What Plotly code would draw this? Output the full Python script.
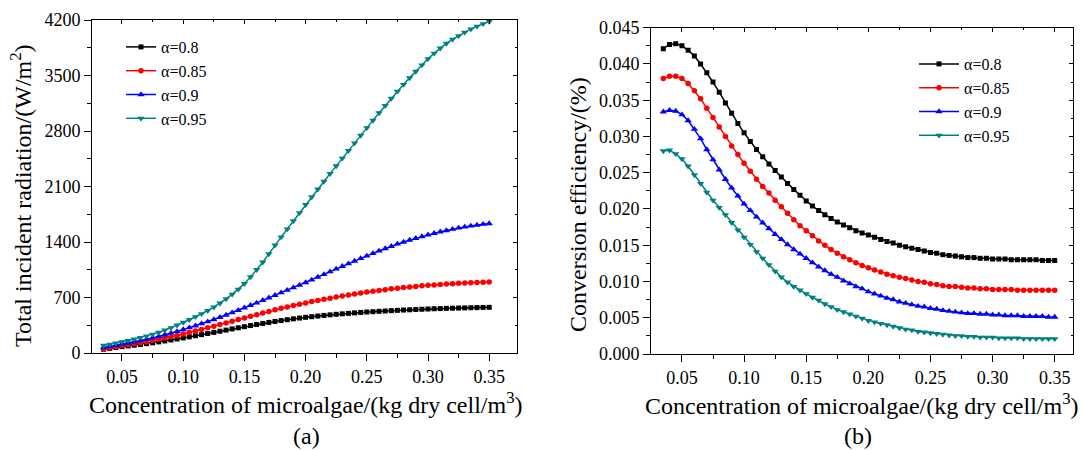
import plotly.graph_objects as go

W, H = 1083, 450

conc = [0.035, 0.040, 0.045, 0.050, 0.055, 0.060, 0.065, 0.070, 0.075, 0.080,
        0.085, 0.090, 0.095, 0.100, 0.105, 0.110, 0.115, 0.120, 0.125, 0.130,
        0.135, 0.140, 0.145, 0.150, 0.155, 0.160, 0.165, 0.170, 0.175, 0.180,
        0.185, 0.190, 0.195, 0.200, 0.205, 0.210, 0.215, 0.220, 0.225, 0.230,
        0.235, 0.240, 0.245, 0.250, 0.255, 0.260, 0.265, 0.270, 0.275, 0.280,
        0.285, 0.290, 0.295, 0.300, 0.305, 0.310, 0.315, 0.320, 0.325, 0.330,
        0.335, 0.340, 0.345, 0.350]

labels = ["α=0.8", "α=0.85", "α=0.9", "α=0.95"]

# (a) Total incident radiation, W/m2
rad_08 = [48, 58, 69, 80, 89, 98, 108, 118, 128, 140, 152, 164, 177, 190, 204, 218, 232, 246, 260,
          275, 289, 304, 318, 332, 346, 359, 373, 386, 398, 409, 420, 431, 441, 450, 458, 466, 474,
          481, 488, 494, 500, 506, 512, 517, 521, 526, 530, 534, 538, 542, 545, 549, 552, 555, 558,
          560, 563, 565, 567, 569, 571, 573, 575, 576]
rad_085 = [52, 66, 80, 95, 106, 118, 130, 143, 157, 172, 188, 205, 222, 240, 259, 278, 297, 317, 337,
           358, 379, 400, 421, 442, 463, 484, 505, 525, 545, 563, 581, 599, 616, 632, 648, 663, 678,
           692, 706, 719, 732, 745, 757, 768, 779, 789, 799, 809, 818, 826, 833, 840, 847, 853, 859,
           865, 870, 875, 880, 884, 887, 890, 893, 895]
rad_09 = [67, 81, 96, 112, 126, 141, 156, 173, 190, 209, 229, 250, 272, 295, 319, 343, 369, 395, 422,
          450, 479, 509, 539, 570, 601, 632, 664, 696, 728, 760, 792, 824, 856, 888, 922, 957, 991,
          1026, 1060, 1094, 1127, 1160, 1193, 1225, 1256, 1287, 1317, 1346, 1375, 1400, 1424, 1447,
          1469, 1490, 1509, 1528, 1545, 1561, 1577, 1590, 1603, 1614, 1624, 1632]
rad_095 = [95, 109, 124, 140, 157, 175, 194, 214, 235, 260, 288, 318, 350, 385, 420, 456, 494, 534,
           578, 628, 682, 740, 803, 875, 960, 1050, 1145, 1250, 1360, 1462, 1563, 1665, 1768, 1870,
           1968, 2066, 2164, 2262, 2360, 2456, 2552, 2648, 2744, 2840, 2934, 3027, 3120, 3211, 3300,
           3386, 3470, 3552, 3632, 3710, 3780, 3845, 3905, 3955, 4000, 4045, 4085, 4120, 4152, 4180]

# (b) Conversion efficiency, %
eff_08 = [0.0421, 0.0427, 0.0428, 0.0425, 0.0419, 0.0411, 0.0400, 0.0388, 0.0375, 0.0361, 0.0346,
          0.0332, 0.0318, 0.0305, 0.0293, 0.0282, 0.0272, 0.0262, 0.0253, 0.0244, 0.0235, 0.0227,
          0.0219, 0.0211, 0.0204, 0.0198, 0.0192, 0.0187, 0.0182, 0.0178, 0.0174, 0.0170, 0.0167,
          0.0164, 0.0161, 0.0158, 0.0155, 0.0153, 0.0150, 0.0148, 0.0146, 0.0144, 0.0142, 0.0140,
          0.0139, 0.0137, 0.0136, 0.0135, 0.0134, 0.0133, 0.0133, 0.0132, 0.0132, 0.0131, 0.0131,
          0.0131, 0.0130, 0.0130, 0.0130, 0.0130, 0.0130, 0.0129, 0.0129, 0.0129]
eff_085 = [0.0380, 0.0383, 0.0383, 0.0380, 0.0373, 0.0363, 0.0352, 0.0339, 0.0326, 0.0313, 0.0300,
           0.0287, 0.0275, 0.0263, 0.0252, 0.0241, 0.0231, 0.0222, 0.0212, 0.0203, 0.0194, 0.0185,
           0.0177, 0.0170, 0.0163, 0.0156, 0.0150, 0.0144, 0.0139, 0.0134, 0.0130, 0.0126, 0.0122,
           0.0119, 0.0116, 0.0113, 0.0110, 0.0108, 0.0106, 0.0104, 0.0102, 0.0100, 0.0099, 0.0097,
           0.0096, 0.0094, 0.0093, 0.0093, 0.0092, 0.0091, 0.0091, 0.0090, 0.0090, 0.0089, 0.0089,
           0.0089, 0.0089, 0.0088, 0.0088, 0.0088, 0.0088, 0.0088, 0.0088, 0.0088]
eff_09 = [0.0334, 0.0336, 0.0335, 0.0330, 0.0322, 0.0310, 0.0297, 0.0282, 0.0268, 0.0254, 0.0241,
          0.0229, 0.0218, 0.0207, 0.0198, 0.0189, 0.0181, 0.0173, 0.0165, 0.0158, 0.0151, 0.0144,
          0.0138, 0.0132, 0.0126, 0.0120, 0.0115, 0.0110, 0.0106, 0.0101, 0.0097, 0.0093, 0.0090,
          0.0086, 0.0083, 0.0080, 0.0077, 0.0075, 0.0072, 0.0070, 0.0068, 0.0066, 0.0065, 0.0063,
          0.0062, 0.0060, 0.0059, 0.0058, 0.0057, 0.0056, 0.0056, 0.0055, 0.0055, 0.0054, 0.0054,
          0.0053, 0.0053, 0.0053, 0.0052, 0.0052, 0.0052, 0.0052, 0.0051, 0.0051]
eff_095 = [0.0280, 0.0281, 0.0276, 0.0269, 0.0259, 0.0247, 0.0235, 0.0223, 0.0212, 0.0202, 0.0192,
           0.0181, 0.0171, 0.0161, 0.0151, 0.0141, 0.0132, 0.0123, 0.0114, 0.0106, 0.0099, 0.0093,
           0.0088, 0.0083, 0.0078, 0.0074, 0.0069, 0.0065, 0.0061, 0.0058, 0.0055, 0.0052, 0.0049,
           0.0046, 0.0044, 0.0042, 0.0040, 0.0038, 0.0036, 0.0034, 0.0033, 0.0031, 0.0030, 0.0029,
           0.0028, 0.0027, 0.0026, 0.0025, 0.0025, 0.0024, 0.0024, 0.0023, 0.0023, 0.0023, 0.0022,
           0.0022, 0.0022, 0.0022, 0.0021, 0.0021, 0.0021, 0.0021, 0.0021, 0.0021]

rad_series = [rad_08, rad_085, rad_09, rad_095]
eff_series = [eff_08, eff_085, eff_09, eff_095]

colors = ["#000000", "#FF0000", "#0000FF", "#008080"]
symbols = ["square", "circle", "triangle-up", "triangle-down"]
msizes = [5, 5.5, 6.5, 6.5]

FONT = "Liberation Serif, Times New Roman, Tinos, DejaVu Serif, serif"

fig = go.Figure()
for i in range(4):
    fig.add_trace(go.Scatter(
        x=conc, y=rad_series[i], name=labels[i], mode="lines+markers",
        line=dict(color=colors[i], width=1.5),
        marker=dict(symbol=symbols[i], size=msizes[i], color=colors[i], line=dict(width=0)),
        xaxis="x", yaxis="y", legend="legend"))
for i in range(4):
    fig.add_trace(go.Scatter(
        x=conc, y=eff_series[i], name=labels[i], mode="lines+markers",
        line=dict(color=colors[i], width=1.5),
        marker=dict(symbol=symbols[i], size=msizes[i], color=colors[i], line=dict(width=0)),
        xaxis="x2", yaxis="y2", legend="legend2"))

# empty helper traces so that the mirrored (top/right) tick axes are drawn
for xa, ya in (("x3", "y3"), ("x4", "y4")):
    fig.add_trace(go.Scatter(x=[None], y=[None], mode="markers", showlegend=False,
                             hoverinfo="skip", xaxis=xa, yaxis=ya))


def px_x(p):
    return p / W


def px_y(p):
    return 1 - p / H


xdom1 = [px_x(92), px_x(517)]
ydom1 = [px_y(353), px_y(20)]
xdom2 = [px_x(651), px_x(1073)]
ydom2 = [px_y(354), px_y(27.7)]

xr1 = [0.0255, 0.3727]
yr1 = [0, 4200]
xr2 = [0.0251, 0.3647]
yr2 = [0, 0.045]

tickfont = dict(family=FONT, size=18, color="black")
title_font = dict(family=FONT, size=24, color="black")
common = dict(showgrid=False, zeroline=False, showline=True, linecolor="black", linewidth=1,
              mirror=True, ticks="outside", ticklen=7, tickwidth=1, tickcolor="black",
              tickfont=tickfont, automargin=False)
mir = dict(showticklabels=False, showgrid=False, zeroline=False, showline=True,
           linecolor="black", linewidth=1, ticks="inside", ticklen=4, tickcolor="black",
           automargin=False, tickmode="linear")

fig.update_layout(
    width=W, height=H,
    margin=dict(l=0, r=0, t=0, b=0, autoexpand=False),
    paper_bgcolor="white", plot_bgcolor="white",
    font=dict(family=FONT, color="black"),
    xaxis=dict(domain=xdom1, anchor="y", range=xr1, tickmode="linear", tick0=0.05, dtick=0.05,
               tickformat=".2f",
               minor=dict(ticks="outside", ticklen=4, dtick=0.025, tick0=0.025,
                          tickcolor="black"), **common),
    yaxis=dict(domain=ydom1, anchor="x", range=yr1, tickmode="linear", tick0=0, dtick=700,
               minor=dict(ticks="outside", ticklen=4, dtick=350, tick0=0, tickcolor="black"),
               **common),
    xaxis2=dict(domain=xdom2, anchor="y2", range=xr2, tickmode="linear", tick0=0.05, dtick=0.05,
                tickformat=".2f",
                minor=dict(ticks="outside", ticklen=4, dtick=0.025, tick0=0.025,
                           tickcolor="black"), **common),
    yaxis2=dict(domain=ydom2, anchor="x2", range=yr2, tickmode="linear", tick0=0, dtick=0.005,
                tickformat=".3f",
                minor=dict(ticks="outside", ticklen=4, dtick=0.0025, tick0=0, tickcolor="black"),
                **common),
    xaxis3=dict(overlaying="x", side="top", anchor="y3", range=xr1, tick0=0.05, dtick=0.05,
                minor=dict(ticks="inside", ticklen=2, dtick=0.025, tick0=0.025, tickcolor="black"),
                **mir),
    yaxis3=dict(overlaying="y", side="right", anchor="x3", range=yr1, tick0=0, dtick=700,
                minor=dict(ticks="inside", ticklen=2, dtick=350, tick0=0, tickcolor="black"),
                **mir),
    xaxis4=dict(overlaying="x2", side="top", anchor="y4", range=xr2, tick0=0.05, dtick=0.05,
                minor=dict(ticks="inside", ticklen=2, dtick=0.025, tick0=0.025, tickcolor="black"),
                **mir),
    yaxis4=dict(overlaying="y2", side="right", anchor="x4", range=yr2, tick0=0, dtick=0.005,
                minor=dict(ticks="inside", ticklen=2, dtick=0.0025, tick0=0, tickcolor="black"),
                **mir),
    legend=dict(x=px_x(121), y=px_y(30), xanchor="left", yanchor="top", bgcolor="rgba(0,0,0,0)",
                font=dict(family=FONT, size=16, color="black"), itemwidth=30, tracegroupgap=0),
    legend2=dict(x=px_x(914), y=px_y(47), xanchor="left", yanchor="top", bgcolor="rgba(0,0,0,0)",
                 font=dict(family=FONT, size=16, color="black"), itemwidth=40, tracegroupgap=0),
    showlegend=True,
)

annos = [
    dict(text="Total incident radiation/(W/m<sup>2</sup>)", x=px_x(21), y=px_y(196), textangle=-90),
    dict(text="Concentration of microalgae/(kg dry cell/m<sup>3</sup>)", x=px_x(306), y=px_y(403)),
    dict(text="(a)", x=px_x(306), y=px_y(436)),
    dict(text="Conversion efficiency/(%)", x=px_x(578), y=px_y(205), textangle=-90),
    dict(text="Concentration of microalgae/(kg dry cell/m<sup>3</sup>)", x=px_x(862), y=px_y(404)),
    dict(text="(b)", x=px_x(858), y=px_y(436)),
]
for a in annos:
    fig.add_annotation(xref="paper", yref="paper", showarrow=False, xanchor="center",
                       yanchor="middle", font=title_font, **a)

fig.write_html("out.html", config={"displayModeBar": False},
               post_script="document.body.style.margin='0px';"
                           "document.body.style.overflow='hidden';")
